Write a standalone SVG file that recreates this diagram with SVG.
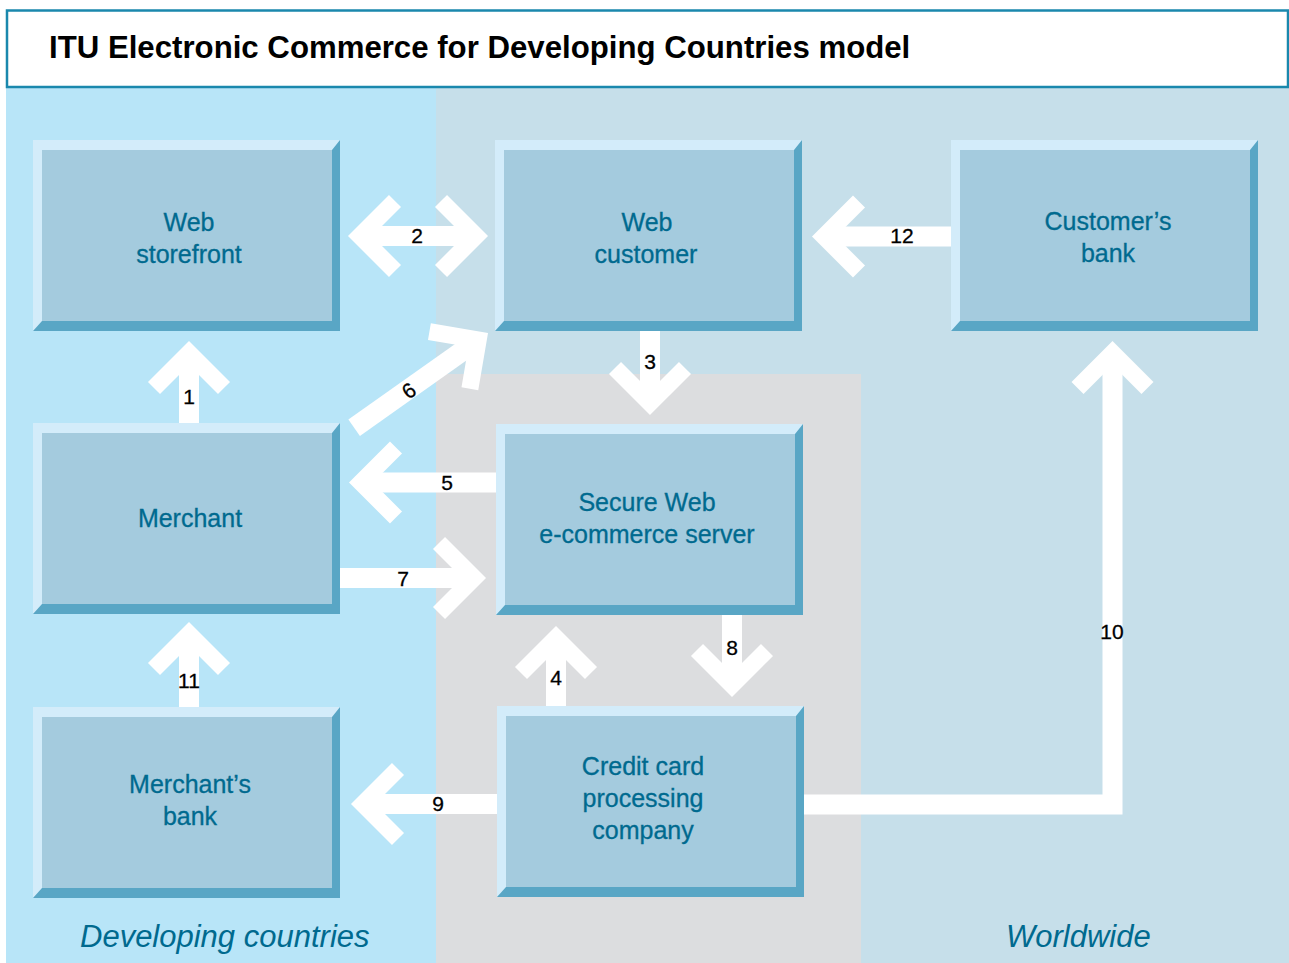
<svg xmlns="http://www.w3.org/2000/svg" xmlns:xlink="http://www.w3.org/1999/xlink" width="1289" height="963" viewBox="0 0 1289 963">
<style>
.shaft{fill:none;stroke:#ffffff;stroke-width:20;stroke-linejoin:miter;stroke-linecap:butt}
.head{fill:none;stroke:#ffffff;stroke-width:17;stroke-linejoin:miter;stroke-miterlimit:4;stroke-linecap:butt}
.num{font-family:"Liberation Sans",Arial,sans-serif;font-size:21px;fill:#000000;text-anchor:middle;stroke:#000000;stroke-width:0.3}
.lbl{font-family:"Liberation Sans",Arial,sans-serif;font-size:25px;fill:#006a8f;text-anchor:middle;stroke:#006a8f;stroke-width:0.3}
.region{font-family:"Liberation Sans",Arial,sans-serif;font-size:31px;font-style:italic;fill:#006a8f}
.title{font-family:"Liberation Sans",Arial,sans-serif;font-size:31.2px;font-weight:bold;fill:#000000}
</style>
<defs>
<g id="box">
<rect x="0" y="0" width="307" height="191" fill="#59a6c5"/>
<polygon points="0,0 307,0 299,10 9,10 9,181 0,191" fill="#d3ecfa"/>
<rect x="9" y="10" width="290" height="171" fill="#a4cbde"/>
</g>
</defs>
<rect x="0" y="0" width="1289" height="963" fill="#ffffff"/>
<g id="background">
<rect x="6" y="88" width="430" height="875" fill="#b8e5f8"/>
<rect x="436" y="88" width="853" height="875" fill="#c6dfea"/>
<rect x="436" y="374" width="425" height="589" fill="#dcdddf"/>
<rect x="7" y="10.5" width="1281" height="76.5" fill="#ffffff" stroke="#1a88ad" stroke-width="2.5"/>
<text class="title" x="49" y="58">ITU Electronic Commerce for Developing Countries model</text>
<text class="region" x="80" y="947">Developing countries</text>
<text class="region" x="1006" y="947">Worldwide</text>
</g>
<g id="connectors">
<g id="arrow1"><path class="shaft" d="M189 424V353"/><polyline class="head" points="154,388 189,353 224,388"/></g>
<g id="arrow2"><path class="shaft" d="M360 236H476"/><polyline class="head" points="395,201 360,236 395,271"/><polyline class="head" points="441,201 476,236 441,271"/></g>
<g id="arrow3"><path class="shaft" d="M650 331V403"/><polyline class="head" points="615,368 650,403 685,368"/></g>
<g id="arrow4"><path class="shaft" d="M556 706V638"/><polyline class="head" points="521,673 556,638 591,673"/></g>
<g id="arrow5"><path class="shaft" d="M496 482.5H361"/><polyline class="head" points="396,447.5 361,482.5 396,517.5"/></g>
<g id="arrow6" transform="translate(488,333) rotate(-35.3)"><path class="shaft" d="M-164 0H-12"/><polyline class="head" points="-47,-35 -12,0 -47,35"/></g>
<g id="arrow7"><path class="shaft" d="M340 578H474"/><polyline class="head" points="439,543 474,578 439,613"/></g>
<g id="arrow8"><path class="shaft" d="M732 614V685"/><polyline class="head" points="697,650 732,685 767,650"/></g>
<g id="arrow9"><path class="shaft" d="M497 804H363"/><polyline class="head" points="398,769 363,804 398,839"/></g>
<g id="arrow10"><path class="shaft" d="M803 804.5H1112.5V353"/><polyline class="head" points="1077.5,388 1112.5,353 1147.5,388"/></g>
<g id="arrow11"><path class="shaft" d="M189 707V634"/><polyline class="head" points="154,669 189,634 224,669"/></g>
<g id="arrow12"><path class="shaft" d="M951 236.5H824"/><polyline class="head" points="859,201.5 824,236.5 859,271.5"/></g>
<text class="num" x="189" y="404">1</text>
<text class="num" x="417" y="243">2</text>
<text class="num" x="650" y="369">3</text>
<text class="num" x="556" y="685">4</text>
<text class="num" x="447" y="490">5</text>
<text class="num" transform="translate(409,391) rotate(-35)" x="0" y="7">6</text>
<text class="num" x="403" y="586">7</text>
<text class="num" x="732" y="655">8</text>
<text class="num" x="438" y="811">9</text>
<text class="num" x="1112" y="639">10</text>
<text class="num" x="189" y="688">11</text>
<text class="num" x="902" y="243">12</text>
</g>
<g id="node-web-storefront"><use xlink:href="#box" x="33" y="140"/><text class="lbl" x="189" y="231">Web</text><text class="lbl" x="189" y="263">storefront</text></g>
<g id="node-web-customer"><use xlink:href="#box" x="495" y="140"/><text class="lbl" x="647" y="231">Web</text><text class="lbl" x="646" y="263">customer</text></g>
<g id="node-customers-bank"><use xlink:href="#box" x="951" y="140"/><text class="lbl" x="1108" y="230">Customer’s</text><text class="lbl" x="1108" y="262">bank</text></g>
<g id="node-merchant"><use xlink:href="#box" x="33" y="423"/><text class="lbl" x="190" y="527">Merchant</text></g>
<g id="node-secure-server"><use xlink:href="#box" x="496" y="424"/><text class="lbl" x="647" y="511">Secure Web</text><text class="lbl" x="647" y="543">e-commerce server</text></g>
<g id="node-credit-card"><use xlink:href="#box" x="497" y="706"/><text class="lbl" x="643" y="775">Credit card</text><text class="lbl" x="643" y="807">processing</text><text class="lbl" x="643" y="839">company</text></g>
<g id="node-merchants-bank"><use xlink:href="#box" x="33" y="707"/><text class="lbl" x="190" y="793">Merchant’s</text><text class="lbl" x="190" y="825">bank</text></g>
</svg>
